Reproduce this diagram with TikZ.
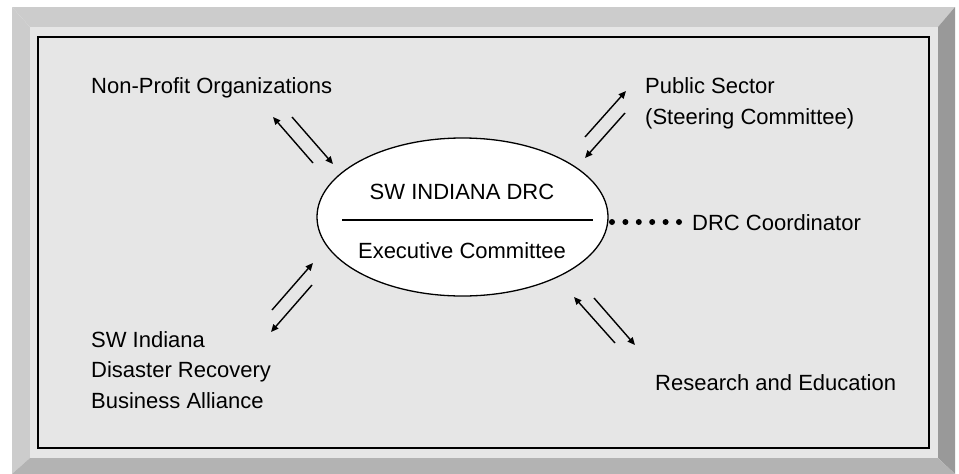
\documentclass[tikz,border=0pt]{standalone}
\usepackage{fontspec}
\setmainfont{Liberation Sans}
\usetikzlibrary{arrows.meta,shapes.geometric}
\definecolor{bevellight}{HTML}{CCCCCC}
\definecolor{beveldark}{HTML}{999999}
\definecolor{bevelmid}{HTML}{B3B3B3}
\definecolor{panel}{HTML}{E6E6E6}
\begin{document}
\begin{tikzpicture}[x=1pt,y=-1pt,
  txt/.style={inner sep=0pt, font=\fontsize{22}{30.5}\selectfont, align=left},
  flow/.style={line width=1.4pt, -{Triangle[length=7.5pt,width=6.5pt]}},
  dots/.style={line width=6pt, line cap=round, dash pattern=on 0pt off 13.4pt}]
\useasboundingbox (0,0) rectangle (959,474);

% bevelled frame
\fill[bevellight] (12,7) -- (955,7) -- (938,27) -- (30,27) -- cycle;
\fill[bevellight] (12,7) -- (30,27) -- (30,458) -- (12,474) -- cycle;
\fill[beveldark] (955,7) -- (955,474) -- (938,458) -- (938,27) -- cycle;
\fill[bevelmid] (12,474) -- (30,458) -- (938,458) -- (955,474) -- cycle;
\fill[panel] (30,27) rectangle (938,458);
\draw[line width=2pt] (38,37) rectangle (929,448);

% central ellipse
\node[draw, ellipse, fill=white, line width=1.3pt, minimum width=291pt,
      minimum height=158pt, inner sep=0pt] (drc) at (462.5,217) {};
\coordinate (divL) at (342,220);
\coordinate (divR) at (593,220);
\draw[line width=2pt] (divL) -- (divR);
\node[txt, anchor=base] (title) at (462,199) {SW INDIANA DRC};
\node[txt, anchor=base] (sub) at (462,258) {Executive Committee};

% surrounding labels (base = baseline of the last line)
\node[txt, anchor=base west] (npo) at (91,93) {Non-Profit Organizations};
\node[txt, anchor=base west] (pub) at (645,124) {Public Sector\\(Steering Committee)};
\node[txt, anchor=base west] (coord) at (692,230) {DRC Coordinator};
\node[txt, anchor=base west] (alliance) at (91,408) {SW Indiana\\Disaster Recovery\\Business Alliance};
\node[txt, anchor=base west] (research) at (655,390) {Research and Education};

% dotted link to the coordinator
\coordinate (dotA) at (612,222);
\coordinate (dotB) at (682,222);
\draw[dots] (dotA) -- (dotB);

% two-way arrow pairs
\coordinate (a1s) at (313,163); \coordinate (a1e) at (273,117);
\coordinate (a2s) at (292,117); \coordinate (a2e) at (333,164);
\coordinate (b1s) at (585,137); \coordinate (b1e) at (626,91);
\coordinate (b2s) at (625,113); \coordinate (b2e) at (585,158);
\coordinate (c1s) at (272,310); \coordinate (c1e) at (313,263);
\coordinate (c2s) at (312,285); \coordinate (c2e) at (271,332);
\coordinate (d1s) at (615,343); \coordinate (d1e) at (574,297);
\coordinate (d2s) at (594,298); \coordinate (d2e) at (635,345);
\foreach \p in {a1,a2,b1,b2,c1,c2,d1,d2}
  \draw[flow] (\p s) -- (\p e);
\end{tikzpicture}
\end{document}
